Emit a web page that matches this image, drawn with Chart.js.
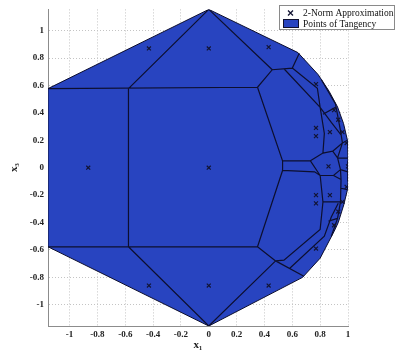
<!DOCTYPE html>
<html>
<head>
<meta charset="utf-8">
<script src="https://cdn.jsdelivr.net/npm/chart.js@4.4.1/dist/chart.umd.min.js"></script>
<style>
html, body { margin: 0; padding: 0; background: #fff; }
#wrap { width: 396px; height: 355px; }
</style>
</head>
<body>
<div id="wrap"><canvas id="tessChart" width="396" height="355"></canvas></div>
<script>
// ------ data ------//
var xTicks = [-1, -0.8, -0.6, -0.4, -0.2, 0, 0.2, 0.4, 0.6, 0.8, 1]
var xTickLabels = ['-1', '-0.8', '-0.6', '-0.4', '-0.2', '0', '0.2', '0.4', '0.6', '0.8', '1']
var yTicks = [-1, -0.8, -0.6, -0.4, -0.2, 0, 0.2, 0.4, 0.6, 0.8, 1]
var yTickLabels = ['-1', '-0.8', '-0.6', '-0.4', '-0.2', '0', '0.2', '0.4', '0.6', '0.8', '1']

// outer boundary of the polytope (x1, x3)
var outlineX = [0, 0.64, 0.785, 0.864, 0.925, 0.968, 0.996, 1.0, 1.0, 0.996, 0.97, 0.93, 0.90, 0.80, 0.674, 0, -1.155, -1.155, 0]
var outlineY = [1.155, 0.84, 0.68, 0.558, 0.443, 0.322, 0.20, 0.05, -0.10, -0.16, -0.27, -0.40, -0.465, -0.66, -0.80, -1.155, -0.577, 0.577, 1.155]

// face edges, one polyline each
var faceEdges = [
	[[-1.155, 0.577], [0.35, 0.587]],
	[[-1.155, -0.577], [0.35, -0.577]],
	[[-0.577, 0.577], [-0.577, -0.577]],
	[[-0.577, 0.577], [0, 1.155]],
	[[-0.577, -0.577], [0, -1.155]],
	[[0, 1.155], [0.456, 0.715]],
	[[0, -1.155], [0.48, -0.68]],
	[[0.35, 0.587], [0.53, 0.05], [0.73, 0.05]],
	[[0.35, -0.577], [0.53, -0.02], [0.76, -0.03], [0.80, -0.057]],
	[[0.53, 0.05], [0.53, -0.02]],
	[[0.35, 0.587], [0.456, 0.715], [0.60, 0.727], [0.65, 0.835]],
	[[0.54, 0.722], [0.80, 0.44], [0.88, 0.33], [0.95, 0.24]],
	[[0.60, 0.727], [0.78, 0.58], [0.80, 0.44], [0.83, 0.25], [0.82, 0.107]],
	[[0.73, 0.05], [0.82, 0.107], [0.89, 0.12], [0.925, 0.072], [0.946, -0.014], [0.896, -0.057], [0.80, -0.057], [0.73, 0.05]],
	[[0.81, 0.64], [0.91, 0.465], [0.946, 0.27], [0.96, 0.18], [0.925, 0.072]],
	[[0.82, 0.39], [0.91, 0.44]],
	[[0.89, 0.12], [0.96, 0.18]],
	[[0.96, 0.18], [0.996, 0.20]],
	[[0.925, 0.072], [1.0, 0.07]],
	[[0.946, -0.014], [1.0, -0.03]],
	[[0.946, -0.014], [0.95, -0.086], [0.946, -0.25], [0.925, -0.37], [0.88, -0.50]],
	[[0.896, -0.057], [0.95, -0.086]],
	[[0.95, -0.15], [0.996, -0.16]],
	[[0.82, -0.25], [0.946, -0.25]],
	[[0.86, -0.39], [0.925, -0.37]],
	[[0.35, -0.577], [0.48, -0.68], [0.68, -0.79]],
	[[0.48, -0.68], [0.54, -0.675], [0.80, -0.45], [0.82, -0.25], [0.80, -0.057]],
	[[0.58, -0.735], [0.83, -0.50], [0.88, -0.36], [0.93, -0.26]]
]

// points of tangency (x markers)
var tangX = [-0.866, -0.43, -0.43, 0, 0, 0, 0.43, 0.43, 0.77, 0.77, 0.77, 0.77, 0.77, 0.77, 0.87, 0.87, 0.86, 0.90, 0.93, 0.96, 0.99, 1.0, 0.99, 0.96, 0.93, 0.90]
var tangY = [0, 0.87, -0.86, 0.87, 0, -0.86, 0.88, -0.86, 0.61, -0.59, 0.29, 0.23, -0.20, -0.26, 0.26, -0.20, 0.01, 0.42, 0.35, 0.26, 0.18, 0.01, -0.14, -0.25, -0.32, -0.42]

var fillBlue = 'rgb(40,68,192)'
var edgeColor = '#0d0f2e'
var markColor = '#121433'

// ------ build datasets ------//
var outlinePts = outlineX.map(function (x, i) { return { x: x, y: outlineY[i] } })
var edgePts = []
faceEdges.forEach(function (line) {
	line.forEach(function (p) { edgePts.push({ x: p[0], y: p[1] }) })
	edgePts.push({ x: null, y: null })
})
var tangPts = tangX.map(function (x, i) { return { x: x, y: tangY[i] } })

var legendBox = {
	id: 'legendBox',
	afterDraw: function (chart) {
		var c = chart.ctx
		c.save()
		c.fillStyle = '#fff'
		c.fillRect(279.5, 5.5, 115, 24)
		c.strokeStyle = '#8a8a8a'
		c.lineWidth = 1
		c.strokeRect(279.5, 5.5, 115, 24)
		// x marker
		c.strokeStyle = markColor
		c.lineWidth = 1.3
		c.beginPath()
		c.moveTo(288, 10.5); c.lineTo(293, 15.5)
		c.moveTo(293, 10.5); c.lineTo(288, 15.5)
		c.stroke()
		// blue patch
		c.fillStyle = fillBlue
		c.fillRect(283, 19.5, 16, 8)
		c.strokeStyle = edgeColor
		c.lineWidth = 1
		c.strokeRect(283.5, 19.5, 15, 8)
		c.fillStyle = '#111'
		c.font = '9.5px "Liberation Serif"'
		c.textBaseline = 'middle'
		c.fillText('2-Norm Approximation', 303, 13)
		c.fillText('Points of Tangency', 303, 24)
		c.restore()
	}
}

var ctx = document.getElementById('tessChart')
var tickFont = { family: '"Liberation Serif"', size: 9, weight: 'bold' }

var myChart = new Chart(ctx, {
	type: 'scatter',
	data: {
		datasets: [
			{
				label: '2-Norm Approximation',
				data: tangPts,
				showLine: false,
				pointStyle: 'crossRot',
				pointRadius: 2.8,
				borderColor: markColor,
				borderWidth: 1.2,
				order: 1
			},
			{
				label: 'edges',
				data: edgePts,
				showLine: true,
				spanGaps: false,
				pointRadius: 0,
				borderColor: edgeColor,
				borderWidth: 1.2,
				fill: false,
				order: 2
			},
			{
				label: 'Points of Tangency',
				data: outlinePts,
				showLine: true,
				pointRadius: 0,
				borderColor: edgeColor,
				borderWidth: 1,
				backgroundColor: fillBlue,
				fill: 'shape',
				order: 3
			}
		]
	},
	options: {
		responsive: false,
		animation: false,
		devicePixelRatio: 1,
		layout: { padding: { top: 3, right: 48, left: 0, bottom: 0 } },
		plugins: {
			legend: { display: false },
			tooltip: { enabled: false }
		},
		scales: {
			x: {
				type: 'linear',
				min: -1.155,
				max: 1,
				afterBuildTicks: function (scale) { scale.ticks = xTicks.map(function (v) { return { value: v } }) },
				afterFit: function (scale) { scale.height = 29 },
				ticks: {
					autoSkip: false,
					maxRotation: 0,
					padding: 3,
					color: '#222',
					font: tickFont,
					callback: function (v, i) { return xTickLabels[i] }
				},
				grid: { color: '#c4c4c4', lineWidth: 1, drawTicks: false },
				border: { display: true, color: '#8c8c8c', width: 1, dash: [1, 2] },
				title: {
					display: true,
					text: 'x\u2081',
					color: '#222',
					font: { family: '"Liberation Serif"', size: 11, weight: 'bold' },
					padding: { top: 0, bottom: 3 }
				}
			},
			y: {
				type: 'linear',
				min: -1.155,
				max: 1.155,
				afterBuildTicks: function (scale) { scale.ticks = yTicks.map(function (v) { return { value: v } }) },
				afterFit: function (scale) { scale.width = 48 },
				ticks: {
					autoSkip: false,
					padding: 4,
					color: '#222',
					font: tickFont,
					callback: function (v, i) { return yTickLabels[i] }
				},
				grid: { color: '#c4c4c4', lineWidth: 1, drawTicks: false },
				border: { display: true, color: '#8c8c8c', width: 1, dash: [1, 2] },
				title: {
					display: true,
					text: 'x\u2083',
					color: '#222',
					font: { family: '"Liberation Serif"', size: 11, weight: 'bold' },
					padding: { top: 8, bottom: 0 }
				}
			}
		}
	},
	plugins: [legendBox]
})
</script>
</body>
</html>
